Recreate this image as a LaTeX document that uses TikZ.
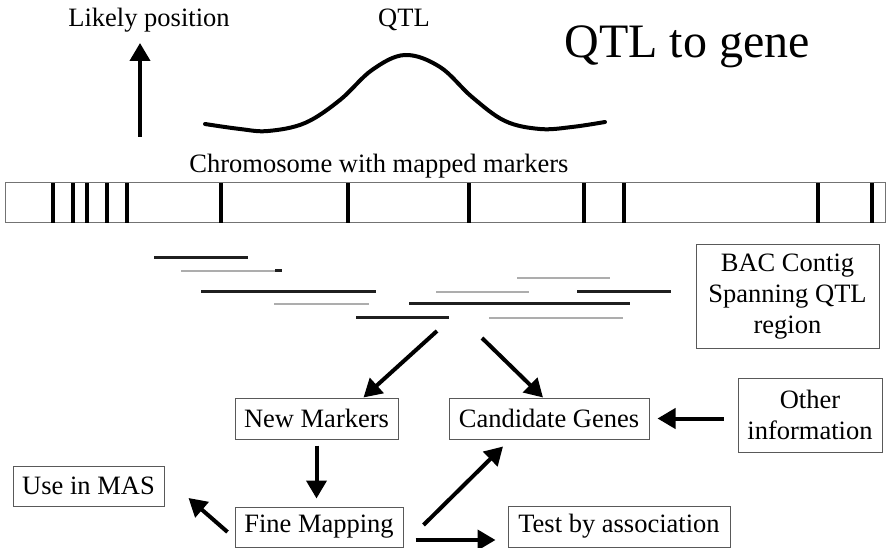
\documentclass[tikz,border=0pt]{standalone}
\usepackage{fontspec}
\setmainfont{Liberation Serif}
\usetikzlibrary{arrows.meta}
\begin{document}
\begin{tikzpicture}[x=1pt,y=-1pt,
  txt/.style={font=\fontsize{26.5}{30}\selectfont, inner sep=0pt},
  box/.style={draw=black!65, line width=1pt, fill=white, inner sep=0pt,
    font=\fontsize{26.5}{31}\selectfont, align=center},
  arr/.style={line width=4pt, -{Triangle[length=18pt,width=20pt]}},
  marker/.style={line width=3.6pt},
  darkclone/.style={line width=3pt, black!88},
  lightclone/.style={line width=2.6pt, black!32}
]
\useasboundingbox (0,0) rectangle (887,548);

% top labels
\node[txt, anchor=base] (lp) at (149,27) {Likely position};
\node[txt, anchor=base] (qtl) at (404,27) {QTL};
\node[font=\fontsize{48}{52}\selectfont, inner sep=0pt, anchor=base] (title) at (687,58) {QTL to gene};

% likely position arrow
\coordinate (lpA) at (140,137);
\coordinate (lpB) at (140,43);
\draw[arr] (lpA) -- (lpB);

% QTL curve
\draw[line width=4pt, line cap=round] plot[smooth, tension=0.6] coordinates {
  (205,124) (240,129) (268,131) (305,123) (340,100) (372,70) (405,55)
  (440,67) (472,97) (505,121) (540,129) (572,127) (605,122)};

% chromosome
\node[txt, anchor=base] (chrlab) at (379,173) {Chromosome with mapped markers};
\node[draw=black!55, line width=1pt, minimum width=880pt, minimum height=40pt, inner sep=0pt] (chr) at (445,203) {};
\foreach \mx in {53,73,87,107,127,221,348,469,584,624,818,872}
  \draw[marker] (\mx,183) -- (\mx,223);

% BAC contig clones
\draw[darkclone] (154,258) -- (248,258);
\draw[lightclone] (181,271) -- (275,271);
\draw[darkclone] (275,271) -- (282,271);
\draw[darkclone] (201,292) -- (376,292);
\draw[lightclone] (274,304) -- (369,304);
\draw[darkclone] (356,318) -- (449,318);
\draw[lightclone] (517,278) -- (610,278);
\draw[lightclone] (436,292) -- (529,292);
\draw[darkclone] (577,292) -- (671,292);
\draw[darkclone] (409,304) -- (630,304);
\draw[lightclone] (489,318) -- (623,318);

\node[box, minimum width=183pt, minimum height=104pt] (bac) at (787.5,297)
  {BAC Contig\\Spanning QTL\\region};

% flow boxes
\node[box, minimum width=163pt, minimum height=41pt] (nm) at (316.5,418.5) {New Markers};
\node[box, minimum width=200pt, minimum height=41pt] (cg) at (549,418.5) {Candidate Genes};
\node[box, minimum width=144pt, minimum height=74pt] (oi) at (810,415) {Other\\information};
\node[box, minimum width=151pt, minimum height=40pt] (mas) at (88.5,486) {Use in MAS};
\node[box, minimum width=168pt, minimum height=40pt] (fm) at (319,527) {Fine Mapping};
\node[box, minimum width=222pt, minimum height=41pt] (test) at (619,526.5) {Test by association};

% arrows
\coordinate (ctA) at (437,331);
\coordinate (ctB) at (482,338);
\draw[arr] (ctA) -- ([xshift=47pt]nm.north);
\draw[arr] (ctB) -- ([xshift=-6pt]cg.north);
\draw[arr] ([xshift=-14pt,yshift=-3.5pt]oi.west) -- ([xshift=8pt]cg.east);
\draw[arr] ([yshift=-6pt]nm.south) -- ([yshift=-59pt]nm.south);
\draw[arr] ([xshift=-7pt,yshift=-5pt]fm.west) -- ([xshift=24pt,yshift=-12pt]mas.east);
\draw[arr] ([xshift=20pt,yshift=2pt]fm.east) -- ([xshift=-46pt,yshift=-7pt]cg.south);
\draw[arr] ([xshift=12pt,yshift=-13pt]fm.east) -- ([xshift=-12pt,yshift=-13.5pt]test.west);
\end{tikzpicture}
\end{document}
